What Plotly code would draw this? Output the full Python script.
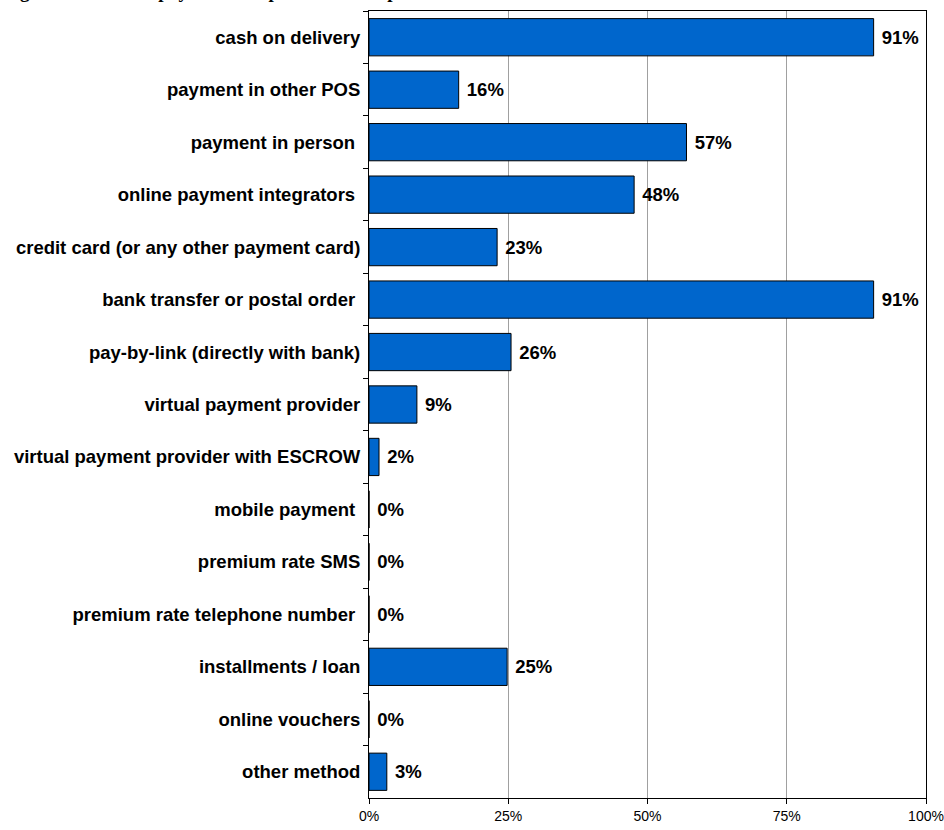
import plotly.graph_objects as go

categories = [
    "cash on delivery",
    "payment in other POS",
    "payment in person ",
    "online payment integrators ",
    "credit card (or any other payment card)",
    "bank transfer or postal order ",
    "pay-by-link (directly with bank)",
    "virtual payment provider",
    "virtual payment provider with ESCROW",
    "mobile payment ",
    "premium rate SMS",
    "premium rate telephone number ",
    "installments / loan",
    "online vouchers",
    "other method",
]
values = [90.6, 16.1, 57.0, 47.6, 23.0, 90.6, 25.5, 8.6, 1.8, 0, 0, 0, 24.8, 0, 3.2]
x_ticks = [0, 25, 50, 75, 100]
x_tick_labels = ["0%", "25%", "50%", "75%", "100%"]

labels = [" %d%%" % round(v) for v in values]

fig = go.Figure(go.Bar(
    y=categories,
    x=values,
    orientation="h",
    marker=dict(color="#0066CC", line=dict(color="#000000", width=1)),
    text=labels,
    textposition="outside",
    cliponaxis=False,
    textfont=dict(family="Liberation Sans, Arial", size=18.5, color="#000000", weight="bold"),
))

fig.update_layout(
    width=944, height=830,
    margin=dict(l=369, r=18, t=11, b=32),
    paper_bgcolor="white", plot_bgcolor="white",
    bargap=0.29,
    showlegend=False,
    font=dict(family="Liberation Sans, Arial", color="#000000"),
    annotations=[dict(
        text="<b>Figure 9. Forms of payment accepted in the shops</b>",
        xref="paper", yref="paper", x=-0.66, y=1.0, xanchor="left", yanchor="bottom",
        yshift=7, showarrow=False,
        font=dict(family="Liberation Serif, Times New Roman", size=19, color="#000000"),
    )],
)
fig.update_xaxes(
    range=[0, 100], tickvals=x_ticks, ticktext=x_tick_labels,
    showgrid=True, gridcolor="#A0A0A0", gridwidth=1,
    showline=True, linecolor="#000000", linewidth=1, mirror=True,
    ticks="outside", ticklen=5, tickcolor="#000000",
    tickfont=dict(family="Liberation Sans, Arial", size=14, color="#000000"),
    zeroline=False, fixedrange=True, automargin=False,
)
fig.update_yaxes(
    autorange="reversed", categoryorder="array", categoryarray=categories,
    showline=True, linecolor="#000000", linewidth=1, mirror=True,
    ticks="outside", ticklen=5, tickcolor="#000000", tickson="boundaries",
    tickfont=dict(family="Liberation Sans, Arial", size=18.5, color="#000000", weight="bold"),
    ticklabelstandoff=4, fixedrange=True, automargin=False,
)

fig.write_html("out.html")
